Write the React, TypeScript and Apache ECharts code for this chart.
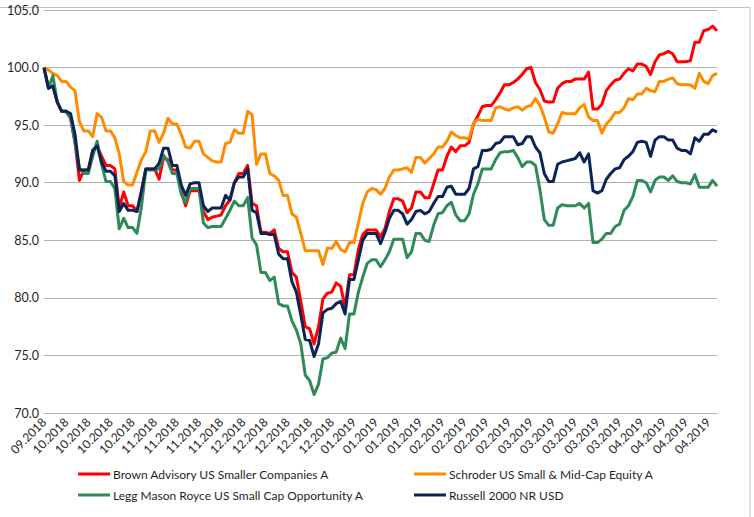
import { useEffect, useRef } from 'react';
import * as echarts from 'echarts';

// weekly tick labels (one per 5 trading days)
const tickLabels = [
  '09.2018',
  '10.2018', '10.2018', '10.2018', '10.2018',
  '11.2018', '11.2018', '11.2018', '11.2018',
  '12.2018', '12.2018', '12.2018', '12.2018', '12.2018',
  '01.2019', '01.2019', '01.2019', '01.2019',
  '02.2019', '02.2019', '02.2019', '02.2019',
  '03.2019', '03.2019', '03.2019', '03.2019', '03.2019',
  '04.2019', '04.2019', '04.2019', '04.2019',
];

const brownAdvisory = [
  100, 98.3, 98.4, 97.0, 96.2, 96.2, 95.6, 93.5, 90.2, 91.1, 91.1, 92.8, 93.2, 92.3, 91.5, 91.5, 91.2, 87.8, 89.2, 88.0,
  88.0, 87.5, 89.3, 91.2, 91.2, 91.2, 90.3, 92.2, 92.0, 91.1, 91.1, 89.2, 88.0, 89.3, 89.3, 89.3, 87.5, 86.8, 87.0, 87.1,
  87.2, 88.0, 88.5, 90.0, 90.8, 90.8, 91.5, 88.2, 88.0, 85.7, 85.7, 85.6, 85.9, 84.3, 84.0, 84.0, 82.2, 81.8, 79.7, 77.5,
  77.3, 76.0, 77.5, 79.9, 80.4, 80.5, 81.3, 81.0, 79.2, 82.0, 82.0, 84.2, 85.5, 85.9, 85.9, 85.9, 85.3, 86.0, 87.5, 88.6,
  88.6, 88.4, 87.4, 87.8, 89.2, 89.2, 88.7, 88.7, 89.9, 91.1, 91.1, 92.3, 93.1, 92.7, 93.2, 93.2, 93.5, 95.1, 95.8, 96.6,
  96.7, 96.7, 97.2, 97.8, 98.5, 98.5, 98.7, 99.0, 99.4, 99.9, 100.0, 98.7, 98.1, 97.1, 97.0, 97.0, 98.2, 98.6, 98.8, 98.8,
  99.0, 99.0, 99.0, 99.6, 96.4, 96.4, 96.8, 98.0, 98.5, 98.9, 99.0, 99.5, 99.9, 99.7, 100.3, 100.3, 100.1, 99.4, 100.5, 101.1,
  101.2, 101.4, 101.2, 100.5, 100.5, 100.5, 100.6, 102.2, 102.2, 103.2, 103.3, 103.6, 103.2,
];

const schroder = [
  100, 99.8, 99.5, 99.3, 98.8, 98.8, 98.3, 98.0, 95.3, 94.5, 94.5, 94.0, 96.0, 95.7, 94.5, 94.5, 93.9, 92.5, 90.1, 89.8,
  89.8, 90.9, 92.0, 92.7, 94.5, 94.5, 93.5, 94.3, 95.6, 95.1, 95.1, 94.2, 93.1, 93.0, 93.6, 93.6, 92.5, 92.2, 91.9, 91.8,
  91.8, 93.4, 93.5, 94.6, 94.3, 94.3, 96.2, 95.9, 91.6, 92.5, 92.5, 90.8, 90.6, 90.2, 88.9, 88.9, 87.3, 87.0, 85.6, 84.1,
  84.1, 84.1, 84.1, 82.9, 84.3, 84.3, 84.9, 84.2, 84.0, 84.8, 84.8, 86.5, 88.2, 89.2, 89.5, 89.4, 89.0, 89.5, 90.5, 91.1,
  91.1, 91.2, 91.3, 90.9, 92.2, 92.2, 91.7, 92.1, 92.5, 93.1, 93.1, 93.6, 94.4, 94.1, 93.9, 93.9, 93.8, 95.2, 95.5, 95.4,
  95.4, 95.4, 96.5, 96.6, 96.4, 96.3, 96.5, 96.6, 96.3, 96.6, 96.7, 97.3, 96.7, 95.7, 94.4, 94.3, 95.1, 96.1, 96.0, 96.0,
  96.0, 96.5, 96.8, 95.7, 95.4, 95.4, 94.3, 95.1, 95.5, 96.1, 96.1, 96.5, 97.3, 97.2, 97.7, 97.7, 98.2, 98.0, 97.9, 98.8,
  98.8, 99.0, 99.1, 98.6, 98.5, 98.5, 98.5, 98.2, 99.5, 98.8, 98.6, 99.3, 99.5,
];

const leggMason = [
  100, 98.2, 99.3, 97.0, 96.2, 96.2, 95.6, 93.5, 91.3, 90.8, 90.8, 92.3, 93.6, 91.6, 90.1, 90.1, 89.5, 86.0, 86.9, 86.1,
  86.1, 85.6, 87.9, 91.1, 91.1, 91.1, 91.2, 92.4, 91.8, 90.8, 90.8, 89.0, 88.3, 89.5, 89.5, 89.5, 86.5, 86.1, 86.2, 86.2,
  86.2, 86.9, 87.6, 88.4, 88.0, 88.0, 88.7, 85.2, 84.6, 82.2, 82.2, 81.5, 81.8, 79.5, 79.3, 79.3, 78.0, 77.2, 76.0, 73.3,
  72.8, 71.6, 72.5, 74.7, 74.8, 75.2, 75.3, 76.5, 75.6, 78.6, 78.6, 80.5, 81.8, 83.0, 83.3, 83.3, 82.7, 83.3, 84.0, 85.1,
  85.1, 85.1, 83.5, 84.0, 85.6, 85.6, 85.0, 84.9, 86.3, 87.3, 87.4, 88.0, 88.3, 87.2, 86.7, 86.7, 87.3, 89.0, 89.9, 91.2,
  91.2, 91.2, 92.0, 92.6, 92.7, 92.7, 92.8, 92.2, 91.4, 91.8, 91.8, 91.5, 89.4, 86.8, 86.3, 86.3, 87.8, 88.1, 88.0, 88.0,
  88.0, 88.2, 87.8, 88.2, 84.8, 84.8, 85.1, 85.6, 85.6, 86.2, 86.4, 87.6, 88.0, 88.8, 90.2, 90.2, 90.0, 89.2, 90.2, 90.5,
  90.5, 90.2, 90.6, 90.1, 90.0, 90.0, 89.9, 90.7, 89.6, 89.6, 89.6, 90.2, 89.7,
];

const russell2000 = [
  100, 98.2, 98.4, 97.0, 96.2, 96.2, 96.0, 94.2, 91.1, 91.1, 91.1, 92.8, 93.2, 91.8, 91.0, 91.0, 90.6, 87.5, 88.2, 87.6,
  87.6, 87.5, 89.2, 91.2, 91.2, 91.2, 91.7, 93.0, 93.0, 91.5, 91.5, 89.8, 88.9, 89.9, 90.0, 90.0, 88.0, 87.5, 87.8, 87.8,
  87.8, 88.9, 88.5, 90.0, 90.5, 90.5, 91.2, 87.6, 87.4, 85.6, 85.6, 85.5, 85.5, 83.8, 83.4, 83.4, 81.4, 80.5, 78.5, 76.4,
  76.3, 74.9, 76.0, 78.7, 79.0, 79.1, 79.5, 79.7, 78.6, 81.6, 81.6, 83.3, 85.0, 85.6, 85.6, 85.6, 84.7, 85.7, 86.9, 87.6,
  87.6, 87.3, 86.4, 86.8, 87.5, 87.6, 87.3, 87.5, 88.2, 88.8, 88.8, 89.6, 89.7, 89.0, 89.0, 89.0, 89.5, 91.2, 91.4, 92.8,
  92.8, 92.9, 93.4, 93.5, 94.0, 94.0, 94.0, 93.3, 93.4, 94.0, 94.0, 93.1, 92.6, 90.8, 90.1, 90.1, 91.6, 91.8, 91.9, 92.0,
  92.1, 92.6, 91.8, 92.5, 89.3, 89.1, 89.3, 90.3, 90.8, 91.2, 91.3, 92.0, 92.3, 92.7, 93.5, 93.6, 93.5, 92.3, 93.7, 94.0,
  94.0, 93.7, 93.7, 93.0, 92.8, 92.8, 92.5, 93.9, 93.6, 94.2, 94.2, 94.6, 94.4,
];

const seriesNames = [
  'Brown Advisory US Smaller Companies A',
  'Schroder US Small & Mid-Cap Equity A',
  'Legg Mason Royce US Small Cap Opportunity A',
  'Russell 2000 NR USD',
];
const seriesColors = ['#ff0000', '#ff8c00', '#2e8b57', '#0b2458'];

// each trading day carries the label of its week
const categories = brownAdvisory.map((_, i) => tickLabels[Math.min(Math.floor(i / 5), tickLabels.length - 1)]);

const FONT = 'Lato, "Noto Sans", sans-serif';

export default function App() {
  const chartRef = useRef<HTMLDivElement>(null);

  useEffect(() => {
    document.body.style.margin = '0';
    if (!chartRef.current) return;
    const chart = echarts.init(chartRef.current, undefined, { renderer: 'svg' });
    const values = [brownAdvisory, schroder, leggMason, russell2000];

    const legendBase = {
      orient: 'vertical',
      icon: 'rect',
      itemWidth: 32,
      itemHeight: 3,
      itemGap: 9,
      selectedMode: false,
      textStyle: { fontFamily: FONT, fontSize: 12, color: '#1f1f1f', padding: [0, 0, 0, -2] },
    };

    chart.setOption({
      animation: false,
      backgroundColor: '#ffffff',
      textStyle: { fontFamily: FONT },
      graphic: [
        {
          type: 'rect',
          shape: { x: -1, y: 7.5, width: 751, height: 530 },
          style: { fill: 'none', stroke: '#c4c4c4', lineWidth: 1 },
          silent: true,
        },
      ],
      grid: { left: 44, right: 37, top: 10, bottom: 104 },
      legend: [
        { ...legendBase, left: 73, top: 463, data: [seriesNames[0], seriesNames[2]] },
        { ...legendBase, left: 409, top: 463, data: [seriesNames[1], seriesNames[3]] },
      ],
      xAxis: {
        type: 'category',
        data: categories,
        boundaryGap: false,
        axisLine: { lineStyle: { color: '#b3b3b3', width: 1 } },
        axisTick: { show: false },
        axisLabel: {
          interval: 4,
          rotate: 45,
          margin: 7,
          fontFamily: FONT,
          fontSize: 12,
          color: '#1f1f1f',
        },
        splitLine: { show: false },
      },
      yAxis: {
        type: 'value',
        min: 70,
        max: 105,
        interval: 5,
        axisLine: { show: false },
        axisTick: { show: false },
        axisLabel: {
          margin: 5,
          fontFamily: FONT,
          fontSize: 12.5,
          color: '#1f1f1f',
          formatter: (v: number) => v.toFixed(1),
        },
        splitLine: { lineStyle: { color: '#b3b3b3', width: 1 } },
      },
      series: values.map((data, k) => ({
        name: seriesNames[k],
        type: 'line',
        data,
        showSymbol: false,
        symbol: 'none',
        lineStyle: { color: seriesColors[k], width: 3, join: 'round' },
        itemStyle: { color: seriesColors[k] },
        z: 2 + k,
      })),
    });

    return () => {
      chart.dispose();
    };
  }, []);

  return <div ref={chartRef} style={{ width: 754, height: 517 }} />;
}
